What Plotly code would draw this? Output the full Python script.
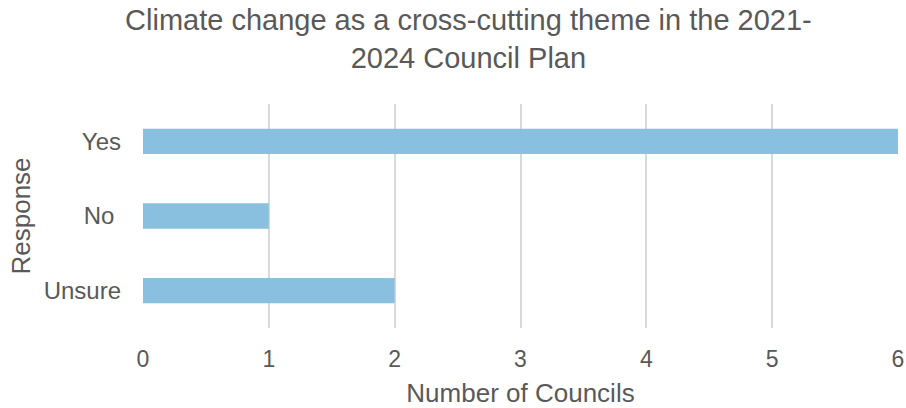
import plotly.graph_objects as go

# Survey responses and counts
responses = ["Yes", "No\u00a0", "Unsure"]
councils = [6, 1, 2]
x_ticks = [0, 1, 2, 3, 4, 5, 6]

TEXT = "#595959"
FONT = "Arial, Liberation Sans, sans-serif"

fig = go.Figure(
    go.Bar(
        y=responses,
        x=councils,
        orientation="h",
        marker=dict(color="#89c0df", line=dict(width=0)),
        width=0.34,
        hoverinfo="x+y",
    )
)

fig.update_layout(
    width=906,
    height=408,
    margin=dict(l=143, r=8, t=104, b=80),
    paper_bgcolor="white",
    plot_bgcolor="white",
    font=dict(family=FONT, color=TEXT, size=23),
    showlegend=False,
    title=dict(
        text="Climate change as a cross-cutting theme in the 2021-<br>2024 Council Plan",
        x=0.517,
        xanchor="center",
        xref="container",
        y=0.926,
        yanchor="top",
        yref="container",
        font=dict(family=FONT, size=29, color=TEXT),
    ),
    xaxis=dict(
        range=[0, 6],
        tickvals=x_ticks,
        automargin=False,
        ticklabeloverflow="allow",
        showgrid=True,
        gridcolor="#d9d9d9",
        gridwidth=2,
        zeroline=False,
        showline=False,
        ticks="",
        ticklabelstandoff=15,
        tickfont=dict(size=23, color=TEXT),
        title=dict(text="Number of Councils", font=dict(size=26, color=TEXT), standoff=12),
        fixedrange=True,
    ),
    yaxis=dict(
        categoryorder="array",
        categoryarray=responses[::-1],
        automargin=False,
        showgrid=False,
        zeroline=False,
        showline=False,
        ticks="",
        ticklabelstandoff=21,
        tickfont=dict(size=24, color=TEXT),
        title=dict(text="Response", font=dict(size=26, color=TEXT), standoff=5),
        fixedrange=True,
    ),
    bargap=0.66,
)

fig.write_html("out.html")
